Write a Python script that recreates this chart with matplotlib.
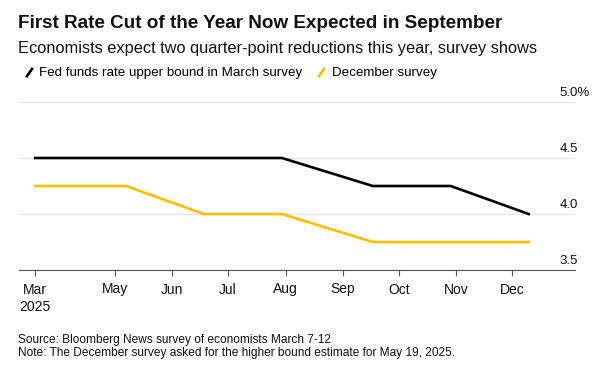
import matplotlib
matplotlib.use('Agg')
import matplotlib.pyplot as plt
from matplotlib.lines import Line2D
from matplotlib import transforms
import numpy as np

# FOMC meeting dates and expected upper bound (%)
meeting_dates = ['2025-03-19', '2025-05-07', '2025-06-18', '2025-07-30',
                 '2025-09-17', '2025-10-29', '2025-12-10']
march_survey = [4.5, 4.5, 4.5, 4.5, 4.25, 4.25, 4.0]
december_survey = [4.25, 4.25, 4.0, 4.0, 3.75, 3.75, 3.75]

tick_dates = ['2025-03-19', '2025-05-01', '2025-06-01', '2025-07-01', '2025-08-01',
              '2025-09-01', '2025-10-01', '2025-11-01', '2025-12-01']
tick_labels = ['Mar\n2025', 'May', 'Jun', 'Jul', 'Aug', 'Sep', 'Oct', 'Nov', 'Dec']
y_ticks = [3.5, 4.0, 4.5, 5.0]
y_labels = ['3.5', '4.0', '4.5', '5.0%']

x = np.array(meeting_dates, dtype='datetime64[D]')
xt = np.array(tick_dates, dtype='datetime64[D]')

plt.rcParams['font.family'] = ['Liberation Sans', 'DejaVu Sans']

fig = plt.figure(figsize=(6.05, 3.69), dpi=100)
ax = fig.add_axes([18.5 / 605, 1 - 270 / 369, (575 - 18.5) / 605, (270 - 102) / 369])

ax.plot(x, march_survey, color='black', lw=1.9, solid_joinstyle='miter', zorder=3)
ax.plot(x, december_survey, color='#fcbf00', lw=1.9, solid_joinstyle='miter', zorder=3)

ax.set_xlim(np.datetime64('2025-03-10'), np.datetime64('2026-01-04'))
ax.set_ylim(3.5, 5.0)

for s in ['top', 'left', 'right']:
    ax.spines[s].set_visible(False)
ax.spines['bottom'].set_color('#555555')
ax.spines['bottom'].set_linewidth(0.8)

ax.set_xticks(xt)
ax.set_xticklabels(tick_labels, fontsize=10, color='#111111', ha='center',
                   linespacing=1.3)
ax.tick_params(axis='x', length=4, width=0.8, color='#555555', pad=5)

ax.set_yticks(y_ticks)
ax.set_yticklabels([])
ax.tick_params(axis='y', length=0)
ax.grid(axis='y', color='#e3e3e3', lw=0.9)
ax.set_axisbelow(True)

trans = transforms.offset_copy(ax.get_yaxis_transform(), fig=fig, x=0, y=9, units='dots')
for v, lab in zip(y_ticks, y_labels):
    ax.text(0.972, v, lab, transform=trans, fontsize=9.5, color='#111111',
            ha='left', va='center')

fig.text(18 / 605, 1 - 23 / 369, 'First Rate Cut of the Year Now Expected in September',
         fontsize=13.6, fontweight='bold', va='center', color='#111111')
fig.text(18 / 605, 1 - 48 / 369,
         'Economists expect two quarter-point reductions this year, survey shows',
         fontsize=11.8, va='center', color='#111111')

handles = [Line2D([], [], color='black', marker=(2, 2, -35), linestyle='None',
                  markersize=8, markeredgewidth=1.6),
           Line2D([], [], color='#fcbf00', marker=(2, 2, -35), linestyle='None',
                  markersize=8, markeredgewidth=1.6)]
fig.legend(handles, ['Fed funds rate upper bound in March survey', 'December survey'],
           loc='center left', bbox_to_anchor=(10 / 605, 1 - 73 / 369), ncol=2,
           frameon=False, handlelength=1.0, handletextpad=0.3, columnspacing=0.9,
           prop={'size': 9.6})

fig.text(18 / 605, 1 - 340 / 369, 'Source: Bloomberg News survey of economists March 7-12',
         fontsize=8.6, va='center', color='#111111')
fig.text(18 / 605, 1 - 353 / 369,
         'Note: The December survey asked for the higher bound estimate for May 19, 2025.',
         fontsize=8.6, va='center', color='#111111')

fig.savefig('out.png', dpi=100)
